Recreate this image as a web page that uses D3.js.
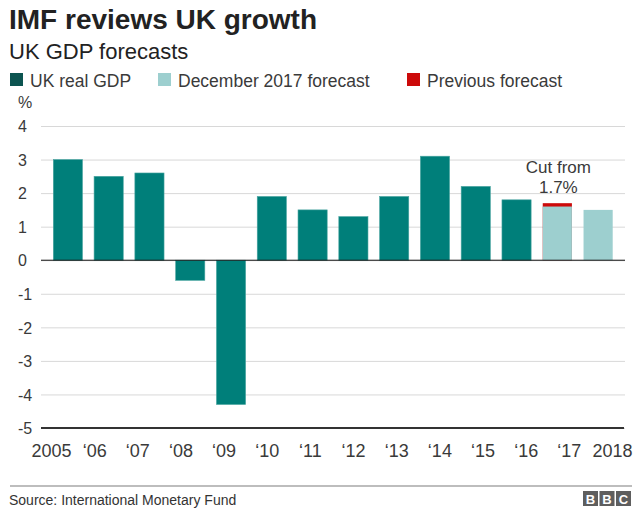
<!DOCTYPE html>
<html>
<head>
<meta charset="utf-8">
<script src="https://cdn.jsdelivr.net/npm/d3@7"></script>
<style>
  html, body { margin: 0; padding: 0; background: #fff; }
  svg { display: block; font-family: "Liberation Sans", Arial, Helvetica, sans-serif; }
</style>
</head>
<body>
<svg id="chart" width="640" height="520"></svg>
<script>
// ---- data ----
const years = ["2005","2006","2007","2008","2009","2010","2011","2012","2013","2014","2015","2016","2017","2018"];
const yearLabels = ["2005","\u201806","\u201807","\u201808","\u201809","\u201810","\u201811","\u201812","\u201813","\u201814","\u201815","\u201816","\u201817","2018"];
const realGDP = [3.0, 2.5, 2.6, -0.6, -4.3, 1.9, 1.5, 1.3, 1.9, 3.1, 2.2, 1.8, null, null];
const dec2017Forecast = [null, null, null, null, null, null, null, null, null, null, null, null, 1.6, 1.5];
const previousForecast = [null, null, null, null, null, null, null, null, null, null, null, null, 1.7, null];
const yTicks = [-5, -4, -3, -2, -1, 0, 1, 2, 3, 4];
const legendLabels = ["UK real GDP", "December 2017 forecast", "Previous forecast"];

// ---- style ----
const C_REAL = "#007f7a", C_REAL_LEG = "#0c5450", C_FC = "#9dcfcf", C_PREV = "#cc0a0a";
const TXT = "#3a3a3a";

const svg = d3.select("#chart");

const y = d3.scaleLinear().domain([-5, 4]).range([428, 126]);
const xb = d3.scaleBand().domain(years).range([53.3, 612.7]).paddingInner(0.285).paddingOuter(0);
const xl = d3.scalePoint().domain(years).range([51, 612]);

// title
svg.append("text").attr("x", 9).attr("y", 29).attr("font-size", 28).attr("font-weight", "bold")
  .attr("fill", "#222").text("IMF reviews UK growth");
svg.append("text").attr("x", 9).attr("y", 58.5).attr("font-size", 22).attr("fill", "#222").text("UK GDP forecasts");

// legend
const legX = [10, 158, 407];
const legC = [C_REAL_LEG, C_FC, C_PREV];
legendLabels.forEach((t, i) => {
  svg.append("rect").attr("x", legX[i]).attr("y", 73).attr("width", 13).attr("height", 13).attr("fill", legC[i]);
  svg.append("text").attr("x", legX[i] + 20).attr("y", 86.5).attr("font-size", 17.5).attr("fill", TXT).text(t);
});

// % label
svg.append("text").attr("x", 18).attr("y", 108).attr("font-size", 16).attr("fill", TXT).text("%");

// gridlines + y labels
const yAxis = d3.axisLeft(y).tickValues(yTicks).tickSize(-(625 - 41)).tickFormat(d => String(d));
const gy = svg.append("g").attr("transform", "translate(41,0)").call(yAxis);
gy.select(".domain").remove();
gy.selectAll(".tick line").attr("stroke", "#d8d8d8").attr("stroke-width", 1);
gy.selectAll(".tick text").attr("x", -23).attr("text-anchor", "start").attr("font-size", 16)
  .attr("fill", TXT).attr("font-family", "Liberation Sans, Arial, sans-serif").attr("dy", "0.36em");

// bars
const gb = svg.append("g");
years.forEach((yr, i) => {
  if (realGDP[i] != null) {
    const v = realGDP[i];
    gb.append("rect").attr("x", xb(yr)).attr("width", xb.bandwidth())
      .attr("y", y(Math.max(0, v))).attr("height", Math.abs(y(v) - y(0)))
      .attr("fill", C_REAL).attr("stroke", "#4aa5a1").attr("stroke-width", 0.6);
  }
  if (previousForecast[i] != null) {
    gb.append("rect").attr("x", xb(yr)).attr("width", xb.bandwidth())
      .attr("y", y(previousForecast[i])).attr("height", y(0) - y(previousForecast[i]))
      .attr("fill", C_PREV);
  }
  if (dec2017Forecast[i] != null) {
    const v = dec2017Forecast[i];
    gb.append("rect").attr("x", xb(yr)).attr("width", xb.bandwidth())
      .attr("y", y(v)).attr("height", y(0) - y(v)).attr("fill", C_FC);
  }
});

// zero line and bottom line
svg.append("line").attr("x1", 41).attr("x2", 625).attr("y1", y(0)).attr("y2", y(0))
  .attr("stroke", "#111").attr("stroke-width", 1);
svg.append("line").attr("x1", 41).attr("x2", 624).attr("y1", y(-5)).attr("y2", y(-5))
  .attr("stroke", "#333").attr("stroke-width", 2);

// x labels
const xAxis = d3.axisBottom(xl).tickSize(0).tickFormat((d, i) => yearLabels[i]);
const gx = svg.append("g").attr("transform", "translate(0,441)").call(xAxis);
gx.select(".domain").remove();
gx.selectAll(".tick text").attr("font-size", 18).attr("fill", TXT)
  .attr("font-family", "Liberation Sans, Arial, sans-serif").attr("dy", "0.71em");

// annotation
const ax = xb("2017") + xb.bandwidth() / 2 + 1;
svg.append("text").attr("x", ax).attr("y", 173).attr("text-anchor", "middle")
  .attr("font-size", 17).attr("fill", TXT).text("Cut from");
svg.append("text").attr("x", ax).attr("y", 192.5).attr("text-anchor", "middle")
  .attr("font-size", 17).attr("fill", TXT).text(previousForecast[12] + "%");

// footer
svg.append("line").attr("x1", 10).attr("x2", 632).attr("y1", 486).attr("y2", 486)
  .attr("stroke", "#bdbdbd").attr("stroke-width", 2);
svg.append("text").attr("x", 9).attr("y", 505).attr("font-size", 14).attr("fill", "#333")
  .text("Source: International Monetary Fund");

// BBC logo
["B", "B", "C"].forEach((l, i) => {
  const bx = 583 + i * 16.5;
  svg.append("rect").attr("x", bx).attr("y", 491).attr("width", 15).attr("height", 15).attr("fill", "#5e5e5e");
  svg.append("text").attr("x", bx + 7.5).attr("y", 503.5).attr("text-anchor", "middle")
    .attr("font-size", 13).attr("font-weight", "bold").attr("fill", "#fff").text(l);
});
</script>
</body>
</html>
